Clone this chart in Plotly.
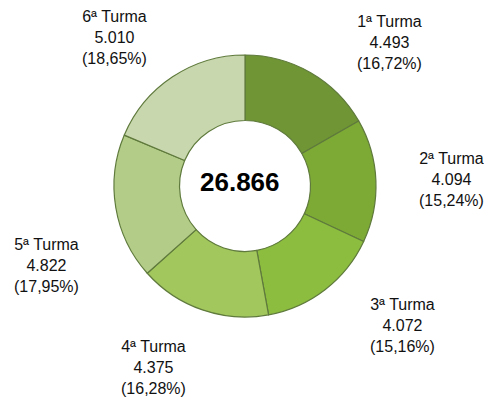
import plotly.graph_objects as go

labels = ["1ª Turma", "2ª Turma", "3ª Turma", "4ª Turma", "5ª Turma", "6ª Turma"]
values = [4493, 4094, 4072, 4375, 4822, 5010]
colors = ["#6f9535", "#7daa35", "#8cbd3e", "#a2c75c", "#b3cd88", "#c9d7ae"]
# label block centres in window pixels
label_pos = [(389, 42), (451, 179), (402, 325), (153, 367), (46, 265), (114, 37)]

OFF = 8  # default page body margin
W, H = 492 - OFF, 400 - OFF
total = sum(values)

def fx(px):
    return (px - OFF) / W

def fy(py):
    return 1 - (py - OFF) / H

def fmt_int(v):
    return f"{v:,}".replace(",", ".")

def fmt_pct(p):
    return f"({p:.2f}%)".replace(".", ",")

fig = go.Figure(go.Pie(
    labels=labels,
    values=values,
    hole=0.5,
    sort=False,
    direction="clockwise",
    rotation=0,
    marker=dict(colors=colors, line=dict(color="#5f7a3c", width=1.2)),
    textinfo="none",
    hoverinfo="label+value+percent",
    showlegend=False,
    domain=dict(x=[fx(114), fx(376)], y=[fy(317), fy(55)]),
))

annotations = []
for lab, v, (px, py) in zip(labels, values, label_pos):
    annotations.append(dict(
        x=fx(px), y=fy(py), xref="paper", yref="paper",
        text=f"{lab}<br>{fmt_int(v)}<br>{fmt_pct(100 * v / total)}",
        showarrow=False, xanchor="center", yanchor="middle", align="center",
        font=dict(family="Liberation Sans, Arial", size=16, color="#111111"),
    ))
annotations.append(dict(
    x=fx(240), y=fy(182), xref="paper", yref="paper",
    text=f"<b>{fmt_int(total)}</b>", showarrow=False,
    xanchor="center", yanchor="middle",
    font=dict(family="Liberation Sans, Arial", size=26, color="#000000"),
))

fig.update_layout(
    width=W, height=H,
    margin=dict(l=0, r=0, t=0, b=0),
    paper_bgcolor="white", plot_bgcolor="white",
    annotations=annotations,
)
fig.write_html("out.html")
